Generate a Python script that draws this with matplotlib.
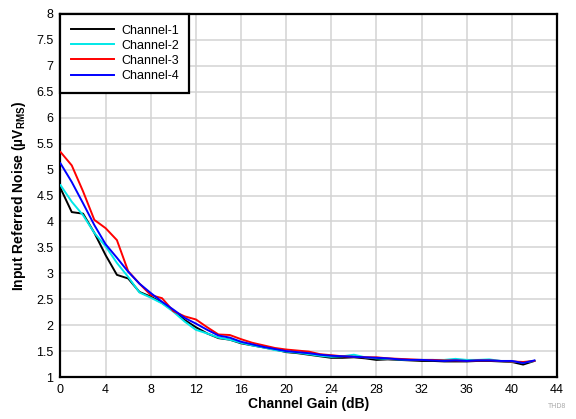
import matplotlib
matplotlib.use("Agg")
import matplotlib.pyplot as plt
import numpy as np

plt.rcParams['font.family'] = ['Liberation Sans', 'DejaVu Sans']
plt.rcParams['mathtext.fontset'] = 'custom'
plt.rcParams['mathtext.rm'] = 'Liberation Sans:bold'
plt.rcParams['mathtext.bf'] = 'Liberation Sans:bold'

gain_db = list(range(0, 43))

channel_1 = [4.64, 4.18, 4.15, 3.78, 3.35, 2.97, 2.90, 2.64, 2.55, 2.43,
             2.28, 2.10, 1.96, 1.84, 1.75, 1.72, 1.65, 1.61, 1.57, 1.53,
             1.48, 1.46, 1.43, 1.40, 1.37, 1.37, 1.38, 1.36, 1.33, 1.34,
             1.33, 1.32, 1.31, 1.31, 1.30, 1.30, 1.30, 1.31, 1.31, 1.30,
             1.29, 1.24, 1.31]
channel_2 = [4.70, 4.38, 4.12, 3.78, 3.52, 3.20, 2.93, 2.63, 2.53, 2.42,
             2.26, 2.07, 1.91, 1.84, 1.76, 1.72, 1.66, 1.61, 1.57, 1.52,
             1.49, 1.47, 1.44, 1.41, 1.39, 1.40, 1.43, 1.38, 1.36, 1.35,
             1.34, 1.33, 1.33, 1.33, 1.33, 1.35, 1.33, 1.33, 1.34, 1.31,
             1.30, 1.28, 1.31]
channel_3 = [5.34, 5.08, 4.58, 4.03, 3.87, 3.64, 3.04, 2.80, 2.58, 2.52,
             2.27, 2.17, 2.11, 1.96, 1.82, 1.81, 1.73, 1.66, 1.61, 1.56,
             1.53, 1.51, 1.49, 1.44, 1.42, 1.40, 1.39, 1.38, 1.38, 1.36,
             1.35, 1.34, 1.33, 1.33, 1.32, 1.32, 1.31, 1.32, 1.32, 1.31,
             1.30, 1.29, 1.31]
channel_4 = [5.12, 4.76, 4.35, 3.93, 3.56, 3.30, 3.03, 2.80, 2.62, 2.45,
             2.30, 2.14, 2.03, 1.91, 1.80, 1.76, 1.68, 1.63, 1.58, 1.54,
             1.50, 1.48, 1.46, 1.43, 1.41, 1.40, 1.39, 1.38, 1.37, 1.36,
             1.34, 1.33, 1.33, 1.32, 1.31, 1.32, 1.31, 1.32, 1.32, 1.31,
             1.31, 1.27, 1.32]

series = [
    ("Channel-1", channel_1, "#000000"),
    ("Channel-2", channel_2, "#00e8e8"),
    ("Channel-3", channel_3, "#ff0000"),
    ("Channel-4", channel_4, "#0000ff"),
]

x_ticks = list(range(0, 45, 4))
y_ticks = [1, 1.5, 2, 2.5, 3, 3.5, 4, 4.5, 5, 5.5, 6, 6.5, 7, 7.5, 8]
y_tick_labels = ["1", "1.5", "2", "2.5", "3", "3.5", "4", "4.5", "5", "5.5",
                 "6", "6.5", "7", "7.5", "8"]

fig = plt.figure(figsize=(5.76, 4.19), dpi=100)
ax = fig.add_axes([0.105, 0.1002, 0.862, 0.8664])

for label, values, color in series:
    ax.plot(gain_db, values, color=color, linewidth=1.4, label=label, zorder=3)

ax.set_xlim(0, 44)
ax.set_ylim(1, 8)
ax.set_xticks(x_ticks)
ax.set_yticks(y_ticks)
ax.set_yticklabels(y_tick_labels)
ax.tick_params(axis='both', length=0, labelsize=9, pad=5)
ax.grid(True, color='#d3d3d3', linewidth=1.1, zorder=0)
ax.set_axisbelow(True)
for spine in ax.spines.values():
    spine.set_linewidth(1.6)
    spine.set_color('black')

ax.set_xlabel("Channel Gain (dB)", fontsize=10, fontweight='bold', labelpad=1)
ax.set_ylabel(r"Input Referred Noise (µV$_{\mathrm{RMS}}$)", fontsize=10,
              fontweight='bold', labelpad=6)

leg = ax.legend(loc='upper left', borderaxespad=0, fontsize=9, handlelength=3.4,
                handletextpad=0.6, labelspacing=0.25, borderpad=0.85,
                fancybox=False, framealpha=1)
leg.get_frame().set_edgecolor('black')
leg.get_frame().set_linewidth(1.6)

fig.text(0.952, 0.022, "THD8", fontsize=5, color='#aaaaaa', ha='left', va='bottom')

fig.savefig("out.png", dpi=100)
